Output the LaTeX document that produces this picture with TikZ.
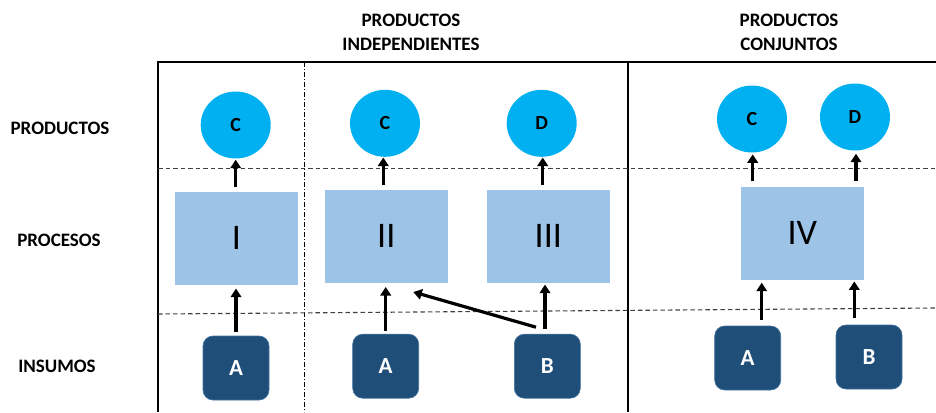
\documentclass[tikz,border=0pt]{standalone}
\usepackage{fontspec}
\setmainfont{Carlito}
\usetikzlibrary{shapes.geometric,arrows.meta}
\definecolor{prodblue}{HTML}{00B0F0}
\definecolor{procblue}{HTML}{9DC3E6}
\definecolor{inblue}{HTML}{1F4E79}
\definecolor{inborder}{HTML}{41719C}
\definecolor{dashgray}{HTML}{404040}
\tikzset{
  prodnode/.style={ellipse,fill=prodblue,inner sep=0pt,minimum width=70pt,minimum height=67pt,font=\bfseries\fontsize{20}{22}\selectfont},
  procnode/.style={rectangle,fill=procblue,inner sep=0pt,minimum width=123pt,minimum height=93pt,font=\fontsize{36}{40}\selectfont},
  innode/.style={rectangle,rounded corners=10pt,fill=inblue,draw=inborder,line width=0.6pt,inner sep=0pt,minimum width=66pt,minimum height=64pt,text=white,font=\bfseries\fontsize{23}{26}\selectfont},
  labelnode/.style={font=\bfseries\fontsize{19}{24}\selectfont,align=center,inner sep=0pt},
  arr/.style={line width=3.2pt,-{Triangle[width=10.5pt,length=8.5pt]}},
  frame/.style={line width=1.8pt,black},
  rowsep/.style={dashgray,line width=1.1pt,dash pattern=on 4.5pt off 3pt},
  colsep/.style={black,line width=0.8pt,dash pattern=on 5pt off 2pt on 1pt off 2pt}
}
\begin{document}
\begin{tikzpicture}[x=1pt,y=-1pt]
\useasboundingbox (0,0) rectangle (936,412);
% frame
\draw[frame] (158,412) -- (158,62) -- (936,62);
\draw[frame] (628,62) -- (628,412);
\draw[colsep] (304.5,62) -- (304.5,412);
\draw[rowsep] (158,168.5) -- (936,168.5);
\draw[rowsep] (158,314) -- (936,308);
% headers
\node[labelnode] (hind) at (411,32) {PRODUCTOS\\INDEPENDIENTES};
\node[labelnode] (hcon) at (789,32) {PRODUCTOS\\CONJUNTOS};
\node[labelnode] (lprod) at (60,128) {PRODUCTOS};
\node[labelnode] (lproc) at (59,240) {PROCESOS};
\node[labelnode] (lins) at (57,366) {INSUMOS};
% products
\node[prodnode] (C1) at (235.7,125) {C};
\node[prodnode] (C2) at (385,123.3) {C};
\node[prodnode] (D3) at (541.7,123.3) {D};
\node[prodnode] (C4) at (752,119) {C};
\node[prodnode] (D4) at (855,117) {D};
% processes
\node[procnode] (P1) at (236.5,238.3) {I};
\node[procnode] (P2) at (386.3,236.3) {II};
\node[procnode] (P3) at (548.3,236.3) {III};
\node[procnode] (P4) at (802.3,233) {IV};
% inputs
\node[innode] (A1) at (236,368) {A};
\node[innode] (A2) at (385.7,366.2) {A};
\node[innode] (B3) at (547.3,366.2) {B};
\node[innode] (A4) at (747.7,358) {A};
\node[innode] (B4) at (869,357) {B};
% arrows inputs -> processes
\draw[arr,shorten <=3.3pt,shorten >=3.6pt] (A1.north) -- (A1.north |- P1.south);
\draw[arr,shorten <=3.3pt,shorten >=4pt] (A2.north) -- (A2.north |- P2.south);
\draw[arr,shorten <=5pt,shorten >=1.6pt] ([xshift=-2.3pt]B3.north) -- ([xshift=-2.3pt]B3.north |- P3.south);
\draw[arr] ([xshift=-11.3pt,yshift=6.7pt]B3.north) -- ([xshift=27pt,yshift=-9pt]P2.south);
\draw[arr,shorten <=5.3pt,shorten >=3pt] ([xshift=14pt]A4.north) -- ([xshift=14pt]A4.north |- P4.south);
\draw[arr,shorten <=6.3pt,shorten >=1.7pt] ([xshift=-14.7pt]B4.north) -- ([xshift=-14.7pt]B4.north |- P4.south);
% arrows processes -> products
\draw[arr,shorten <=5pt,shorten >=1pt] (C1.south |- P1.north) -- (C1.south);
\draw[arr,shorten <=5pt,shorten >=0.5pt] ([xshift=-1.7pt]C2.south |- P2.north) -- ([xshift=-1.7pt]C2.south);
\draw[arr,shorten <=5pt,shorten >=0.5pt] ([xshift=1pt]D3.south |- P3.north) -- ([xshift=1pt]D3.south);
\draw[arr,shorten <=5pt,shorten >=1.7pt] ([xshift=0.7pt]C4.south |- P4.north) -- ([xshift=0.7pt]C4.south);
\draw[arr,shorten <=5pt,shorten >=3pt] ([xshift=1pt]D4.south |- P4.north) -- ([xshift=1pt]D4.south);
\end{tikzpicture}
\end{document}
